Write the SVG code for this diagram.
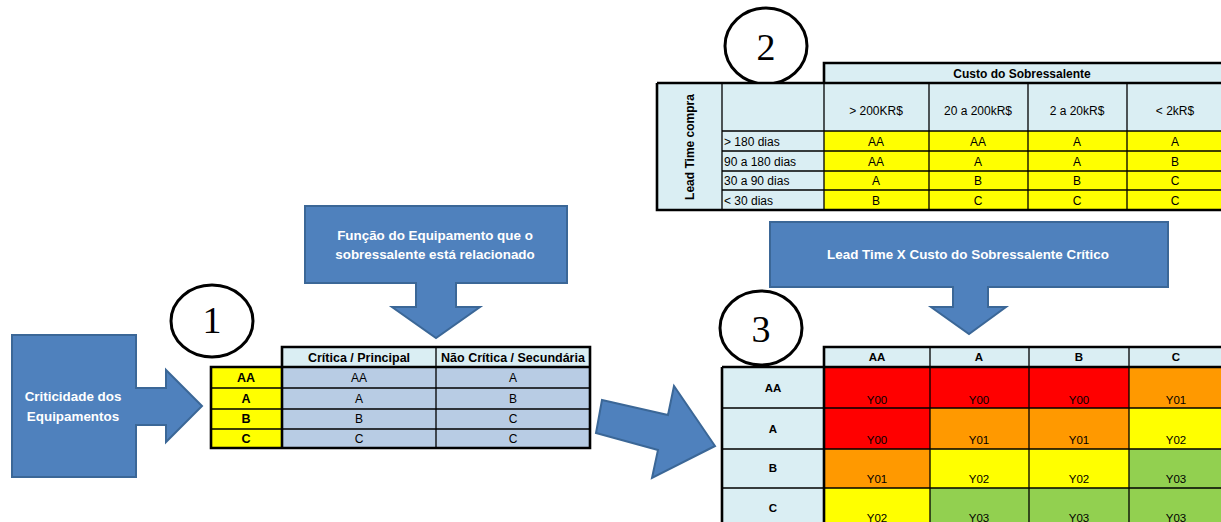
<svg xmlns="http://www.w3.org/2000/svg" width="1221" height="522" viewBox="0 0 1221 522">
<style>
.t{font-family:"Liberation Sans",Arial,sans-serif;font-size:11.5px;fill:#000;text-anchor:middle}
.b{font-weight:bold}
.l{text-anchor:start}
.m{font-size:12px}
.n{font-size:12.5px}
.w{fill:#fff;font-weight:bold;font-size:13.4px}
.dg{font-family:"Liberation Serif","Times New Roman",serif;font-size:38px;text-anchor:middle;fill:#000}
.circ{fill:#fff;stroke:#000;stroke-width:3}
.blk{fill:#4F81BD;stroke:#3B6797;stroke-width:2}
.ln{stroke:#000;stroke-width:1.3;fill:none}
.th{stroke:#000;stroke-width:2.6;fill:none}
.lb{fill:#DAEEF3}
.yl{fill:#FFFF00}
.bg{fill:#B8CCE4}
.rd{fill:#FF0000}
.or{fill:#FF9900}
.gr{fill:#92D050}
</style>
<rect width="1221" height="522" fill="#fff"/>

<g id="node-criticidade">
<path class="blk" d="M12,335 H136 V388 H166 V370 L202,406 L166,442 V425 H136 V477 H12 Z"/>
<text class="t w" x="73" y="401">Criticidade dos</text>
<text class="t w" x="73" y="421">Equipamentos</text>
</g>

<g id="node-funcao">
<path class="blk" d="M305,206 H567 V283 H456 V307 H480 L436,338 L392,307 H416 V283 H305 Z"/>
<text class="t w" x="435" y="240">Função do Equipamento que o</text>
<text class="t w" x="435" y="259">sobressalente está relacionado</text>
</g>

<g id="node-leadtime">
<path class="blk" d="M770,222 H1168 V287 H988 V307 H1006 L969,334 L931,307 H953 V287 H770 Z"/>
<text class="t w" x="968" y="259">Lead Time X Custo do Sobressalente Crítico</text>
</g>

<g id="connectors">
<path class="blk" d="M602,400 L668,415 L674,386 L715,446 L652,478 L658,450 L596,433 Z"/>
</g>

<g id="node-circle1">
<ellipse class="circ" cx="212" cy="321" rx="41" ry="36"/>
<text class="dg" x="212" y="333">1</text>
</g>
<g id="node-circle2">
<ellipse class="circ" cx="766" cy="46" rx="41" ry="38"/>
<text class="dg" x="766" y="60">2</text>
</g>
<g id="node-circle3">
<ellipse class="circ" cx="761" cy="328" rx="41" ry="37"/>
<text class="dg" x="761" y="342">3</text>
</g>

<g id="node-table1">
<rect class="lb" x="282" y="347" width="308" height="20"/>
<rect class="yl" x="211" y="367" width="71" height="81"/>
<rect class="bg" x="282" y="367" width="308" height="81"/>
<path class="ln" d="M436,347 V448 M211,388 H590 M211,409 H590 M211,429 H590"/>
<path class="th" d="M282,367 V347 H590 V448 H211 V367 H590 M282,367 V448"/>
<text class="t b n" x="359" y="362">Crítica / Principal</text>
<text class="t b n" x="513" y="362">Não Crítica / Secundária</text>
<text class="t b n" x="246" y="382">AA</text>
<text class="t b n" x="246" y="403">A</text>
<text class="t b n" x="246" y="423">B</text>
<text class="t b n" x="246" y="443">C</text>
<text class="t m" x="359" y="382">AA</text>
<text class="t m" x="359" y="403">A</text>
<text class="t m" x="359" y="423">B</text>
<text class="t m" x="359" y="443">C</text>
<text class="t m" x="513" y="382">A</text>
<text class="t m" x="513" y="403">B</text>
<text class="t m" x="513" y="423">C</text>
<text class="t m" x="513" y="443">C</text>
</g>

<g id="node-table2">
<rect class="lb" x="824" y="63" width="400" height="20"/>
<rect class="lb" x="657" y="83" width="567" height="48"/>
<rect class="lb" x="657" y="131" width="167" height="79"/>
<rect class="yl" x="824" y="131" width="400" height="79"/>
<path class="ln" d="M722,83 V210 M929,83 V210 M1028,83 V210 M1127,83 V210 M722,131 H1224 M722,151 H1224 M722,171 H1224 M722,190 H1224 M824,83 V210"/>
<path class="th" d="M824,83 V63 H1224 M657,83 H1224 M657,83 V210 H1224"/>
<text class="t b m" x="1022" y="78">Custo do Sobressalente</text>
<text class="t b m" transform="translate(694,147) rotate(-90)">Lead Time compra</text>
<text class="t m" x="876" y="115">&gt; 200KR$</text>
<text class="t m" x="978" y="115">20 a 200kR$</text>
<text class="t m" x="1077" y="115">2 a 20kR$</text>
<text class="t m" x="1175" y="115">&lt; 2kR$</text>
<text class="t l m" x="724" y="146">&gt; 180 dias</text>
<text class="t l m" x="724" y="166">90 a 180 dias</text>
<text class="t l m" x="724" y="185">30 a 90 dias</text>
<text class="t l m" x="724" y="205">&lt; 30 dias</text>
<text class="t m" x="876" y="146">AA</text><text class="t m" x="978" y="146">AA</text><text class="t m" x="1077" y="146">A</text><text class="t m" x="1175" y="146">A</text>
<text class="t m" x="876" y="166">AA</text><text class="t m" x="978" y="166">A</text><text class="t m" x="1077" y="166">A</text><text class="t m" x="1175" y="166">B</text>
<text class="t m" x="876" y="185">A</text><text class="t m" x="978" y="185">B</text><text class="t m" x="1077" y="185">B</text><text class="t m" x="1175" y="185">C</text>
<text class="t m" x="876" y="205">B</text><text class="t m" x="978" y="205">C</text><text class="t m" x="1077" y="205">C</text><text class="t m" x="1175" y="205">C</text>
</g>

<g id="node-table3">
<rect class="lb" x="824" y="347" width="400" height="20"/>
<rect class="lb" x="722" y="367" width="102" height="160"/>
<rect class="rd" x="824" y="367" width="106" height="41"/>
<rect class="rd" x="930" y="367" width="99" height="41"/>
<rect class="rd" x="1029" y="367" width="100" height="41"/>
<rect class="or" x="1129" y="367" width="95" height="41"/>
<rect class="rd" x="824" y="408" width="106" height="41"/>
<rect class="or" x="930" y="408" width="99" height="41"/>
<rect class="or" x="1029" y="408" width="100" height="41"/>
<rect class="yl" x="1129" y="408" width="95" height="41"/>
<rect class="or" x="824" y="449" width="106" height="39"/>
<rect class="yl" x="930" y="449" width="99" height="39"/>
<rect class="yl" x="1029" y="449" width="100" height="39"/>
<rect class="gr" x="1129" y="449" width="95" height="39"/>
<rect class="yl" x="824" y="488" width="106" height="40"/>
<rect class="gr" x="930" y="488" width="99" height="40"/>
<rect class="gr" x="1029" y="488" width="100" height="40"/>
<rect class="gr" x="1129" y="488" width="95" height="40"/>
<path class="ln" d="M930,347 V528 M1029,347 V528 M1129,347 V528 M722,408 H1224 M722,449 H1224 M722,488 H1224"/>
<path class="th" d="M824,367 V347 H1224 M722,367 H1224 M722,367 V528 M824,367 V528"/>
<text class="t b" x="877" y="361">AA</text>
<text class="t b" x="979" y="361">A</text>
<text class="t b" x="1079" y="361">B</text>
<text class="t b" x="1176" y="361">C</text>
<text class="t b" x="773" y="392">AA</text>
<text class="t b" x="773" y="433">A</text>
<text class="t b" x="773" y="472">B</text>
<text class="t b" x="773" y="512">C</text>
<text class="t" x="877" y="404">Y00</text><text class="t" x="979" y="404">Y00</text><text class="t" x="1079" y="404">Y00</text><text class="t" x="1176" y="404">Y01</text>
<text class="t" x="877" y="444">Y00</text><text class="t" x="979" y="444">Y01</text><text class="t" x="1079" y="444">Y01</text><text class="t" x="1176" y="444">Y02</text>
<text class="t" x="877" y="483">Y01</text><text class="t" x="979" y="483">Y02</text><text class="t" x="1079" y="483">Y02</text><text class="t" x="1176" y="483">Y03</text>
<text class="t" x="877" y="522">Y02</text><text class="t" x="979" y="522">Y03</text><text class="t" x="1079" y="522">Y03</text><text class="t" x="1176" y="522">Y03</text>
</g>
</svg>
